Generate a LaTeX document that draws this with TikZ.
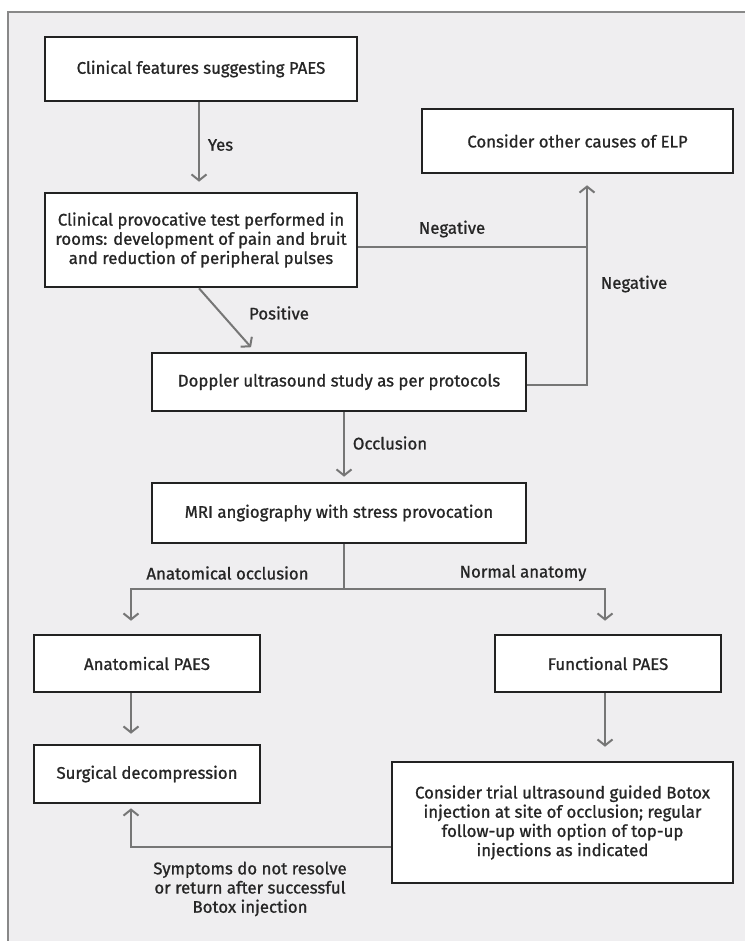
\documentclass[tikz,border=0pt]{standalone}
\usepackage{fontspec}
\setmainfont{Fira Sans}[FakeBold=1.0]
\usetikzlibrary{arrows.meta,calc}
\definecolor{panel}{HTML}{EFEEF0}
\definecolor{panelline}{HTML}{888888}
\definecolor{linegray}{HTML}{767676}
\definecolor{boxline}{HTML}{222222}
\definecolor{txt}{HTML}{262626}
\newcommand\fs{\fontsize{16.8}{19.2}\selectfont}
\begin{document}
\begin{tikzpicture}[x=1pt,y=-1pt,
  box/.style={draw=boxline, line width=2.6pt, fill=white, align=center, text=txt, inner sep=0pt, font=\fs},
  conn/.style={draw=linegray, line width=2pt},
  arr/.style={conn, -{Straight Barb[length=6pt,width=15pt,line width=2pt]}},
  lab/.style={text=txt, font=\fs, inner sep=0pt, align=center}
]
\useasboundingbox (0,0) rectangle (744,941);
\fill[white] (0,0) rectangle (744,941);
\fill[panel] (8,12) rectangle (745,942);
\draw[panelline, line width=1.5pt] (8,942) -- (8,12) -- (745,12);

% boxes
\node[box, minimum width=312pt, minimum height=64pt] (b1) at (201,69) {Clinical features suggesting PAES};
\node[box, minimum width=311pt, minimum height=64pt] (elp) at (577.5,141) {Consider other causes of ELP};
\node[box, minimum width=312pt, minimum height=94pt] (b2) at (201,240)
  {Clinical provocative test performed in\\rooms: development of pain and bruit\\and reduction of peripheral pulses};
\node[box, minimum width=374pt, minimum height=58pt] (dop) at (339,382) {Doppler ultrasound study as per protocols};
\node[box, minimum width=374pt, minimum height=60pt] (mri) at (339,513) {MRI angiography with stress provocation};
\node[box, minimum width=226pt, minimum height=57pt] (anat) at (147,663.5) {Anatomical PAES};
\node[box, minimum width=226pt, minimum height=57pt] (func) at (608,663.5) {Functional PAES};
\node[box, minimum width=226pt, minimum height=58pt] (surg) at (147,774) {Surgical decompression};
\node[box, minimum width=341pt, minimum height=121pt] (botox) at (562.5,822.5)
  {Consider trial ultrasound guided Botox\\injection at site of occlusion; regular\\follow-up with option of top-up\\injections as indicated};

% connectors
\draw[arr, shorten >=10pt] ([xshift=-2pt]b1.south) -- ([xshift=-2pt]b2.north);
\draw[arr, shorten >=6pt] ([xshift=-2pt]b2.south) -- ([xshift=-84pt]dop.north);
\coordinate (negx) at (587,247);
\draw[conn] ([yshift=-7pt]b2.east) -- (negx);
\draw[arr, shorten >=11pt] ([yshift=-3pt]dop.east) -| ([xshift=9.5pt]elp.south);
\draw[arr, shorten >=5pt] ([xshift=5pt]dop.south) -- ([xshift=5pt]mri.north);
\coordinate (br) at (344,589);
\draw[conn] ([xshift=5pt]mri.south) -- (br);
\draw[arr, shorten >=13pt] (br) -| ([xshift=-16pt]anat.north);
\draw[arr, shorten >=13pt] (br) -| ([xshift=-3pt]func.north);
\draw[arr, shorten >=10pt] ([xshift=-16pt]anat.south) -- ([xshift=-16pt]surg.north);
\draw[arr, shorten >=14pt] ([xshift=-3pt]func.south) -- ([xshift=42.5pt]botox.north);
\draw[arr, shorten >=4pt] ([yshift=-24.5pt]botox.west) -| ([xshift=-16pt]surg.south);

% labels
\node[lab] (lyes) at (220.5,145) {Yes};
\node[lab] (lpos) at (279,313) {Positive};
\node[lab] (lneg1) at (452,229) {Negative};
\node[lab] (lneg2) at (634,284) {Negative};
\node[lab] (locc) at (390,443) {Occlusion};
\node[lab] (lanat) at (227.5,573) {Anatomical occlusion};
\node[lab] (lnorm) at (523,573) {Normal anatomy};
\node[lab] (lsym) at (250,889) {Symptoms do not resolve\\or return after successful\\Botox injection};
\end{tikzpicture}
\end{document}
